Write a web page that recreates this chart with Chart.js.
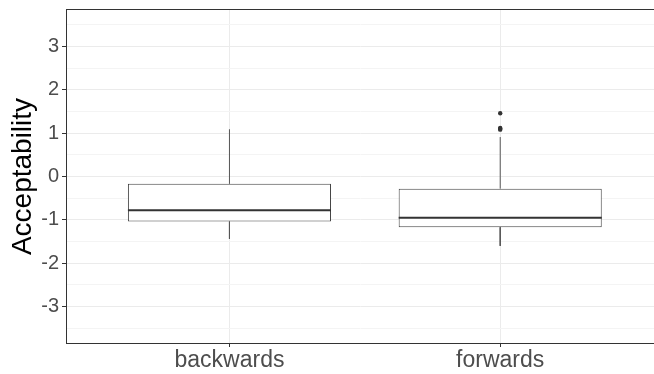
<!DOCTYPE html>
<html>
<head>
<meta charset="utf-8">
<script src="https://cdn.jsdelivr.net/npm/chart.js@4/dist/chart.umd.min.js"></script>
<style>
  html, body { margin: 0; padding: 0; background: #fff; }
  #wrap { width: 654px; height: 374px; position: relative; }
</style>
</head>
<body>
<div id="wrap"><canvas id="boxChart"></canvas></div>
<script>
// Box plot data
const categories = ['backwards', 'forwards'];
const q1 = [-1.04, -1.17];
const median = [-0.78, -0.95];
const q3 = [-0.17, -0.28];
const whiskerLow = [-1.44, -1.60];
const whiskerHigh = [1.09, 0.91];
const outliers = [[], [1.46, 1.12, 1.10, 1.08]];
const yTicks = [-3, -2, -1, 0, 1, 2, 3];

const boxWidth = 0.75;
const gap = { x: null, y: null };

// build line segments for whiskers and medians from the arrays
const whiskerPts = [];
const medianPts = [];
const outlierPts = [];
categories.forEach((c, i) => {
  const x = i + 1;
  whiskerPts.push({ x: x, y: q3[i] }, { x: x, y: whiskerHigh[i] }, gap);
  whiskerPts.push({ x: x, y: q1[i] }, { x: x, y: whiskerLow[i] }, gap);
  medianPts.push({ x: x - boxWidth / 2, y: median[i] }, { x: x + boxWidth / 2, y: median[i] }, gap);
  outliers[i].forEach(v => outlierPts.push({ x: x, y: v }));
});

// panel border all round (right side falls off the canvas, like the reference)
const panelBorder = {
  id: 'panelBorder',
  afterDraw(chart) {
    const { ctx, chartArea: a } = chart;
    ctx.save();
    ctx.strokeStyle = '#333333';
    ctx.lineWidth = 1;
    ctx.strokeRect(Math.round(a.left) - 0.5, Math.round(a.top) - 0.5, a.right - a.left + 1, a.bottom - a.top + 1);
    ctx.restore();
  }
};

const ctx = document.getElementById('boxChart').getContext('2d');
new Chart(ctx, {
  type: 'bar',
  data: {
    datasets: [
      {
        type: 'scatter',
        data: outlierPts,
        pointRadius: 2.2,
        pointBackgroundColor: '#333333',
        pointBorderWidth: 0,
        order: 0
      },
      {
        type: 'scatter',
        data: medianPts,
        showLine: true,
        spanGaps: false,
        borderColor: '#333333',
        borderWidth: 2,
        pointRadius: 0,
        order: 1
      },
      {
        type: 'scatter',
        data: whiskerPts,
        showLine: true,
        spanGaps: false,
        borderColor: '#555555',
        borderWidth: 1,
        pointRadius: 0,
        order: 2
      },
      {
        type: 'bar',
        data: categories.map((c, i) => ({ x: i + 1, y: [q1[i], q3[i]] })),
        backgroundColor: '#ffffff',
        borderColor: '#444444',
        borderWidth: 1,
        borderSkipped: false,
        barPercentage: boxWidth,
        categoryPercentage: 1,
        order: 3
      }
    ]
  },
  options: {
    responsive: true,
    maintainAspectRatio: false,
    animation: false,
    layout: { autoPadding: false, padding: { top: 10, right: 0, bottom: 0, left: 0 } },
    plugins: { legend: { display: false }, tooltip: { enabled: false } },
    scales: {
      x: {
        type: 'linear',
        min: 0.4,
        max: 2.568,
        offset: false,
        afterBuildTicks: scale => { scale.ticks = categories.map((c, i) => ({ value: i + 1 })); },
        afterFit: scale => {
          scale.height = 31;
          scale.paddingLeft = 0;
          scale.paddingRight = 0;
        },
        border: { display: false },
        grid: { offset: false, color: '#ebebeb', tickColor: '#333333', tickLength: 4 },
        ticks: {
          callback: v => categories[v - 1],
          color: '#4d4d4d',
          font: { family: 'Liberation Sans, Arial, sans-serif', size: 23 },
          padding: 0,
          autoSkip: false,
          maxRotation: 0
        }
      },
      y: {
        min: -3.84,
        max: 3.84,
        afterBuildTicks: scale => {
          const t = [];
          yTicks.forEach(v => { t.push({ value: v }); t.push({ value: v + 0.5 }); });
          t.unshift({ value: -3.5 });
          scale.ticks = t.filter(o => o.value <= 3.5).sort((a, b) => a.value - b.value);
        },
        afterFit: scale => {
          scale.width = 67;
          scale.paddingTop = 0;
          scale.paddingBottom = 0;
        },
        border: { display: false },
        grid: {
          color: c => Number.isInteger(c.tick.value) ? '#ebebeb' : '#f4f4f4',
          tickColor: c => Number.isInteger(c.tick.value) ? '#333333' : 'rgba(0,0,0,0)',
          tickLength: 5
        },
        ticks: {
          callback: v => Number.isInteger(v) ? String(v) : '',
          color: '#4d4d4d',
          font: { family: 'Liberation Sans, Arial, sans-serif', size: 20 },
          padding: 3,
          autoSkip: false
        },
        title: {
          display: true,
          text: 'Acceptability',
          color: '#000000',
          font: { family: 'Liberation Sans, Arial, sans-serif', size: 28 },
          padding: { top: 6, bottom: 0 }
        }
      }
    }
  },
  plugins: [panelBorder]
});
</script>
</body>
</html>
